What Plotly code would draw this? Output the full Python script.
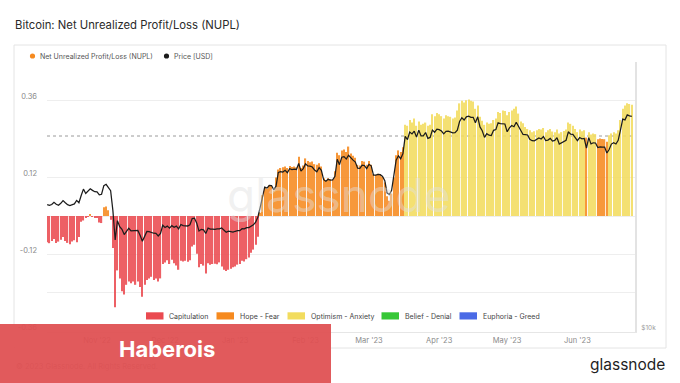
import numpy as np
import pandas as pd
import plotly.graph_objects as go

# ---------------- data ----------------
start_date = "2022-10-10"
end_date = "2023-06-25"

nupl_oct = [-0.082, -0.085, -0.078, -0.072, -0.084, -0.080, -0.074, -0.066, -0.078, -0.084, -0.088,
            -0.080, -0.076, -0.082, -0.066, -0.018, -0.014, -0.004, -0.002, 0.005, -0.003, -0.005]
nupl_nov = [-0.004, -0.020, -0.022, 0.027, 0.030, 0.018, -0.012, -0.100, -0.285, -0.170,
            -0.195, -0.235, -0.245, -0.215, -0.205, -0.210, -0.205, -0.215, -0.205, -0.222,
            -0.252, -0.215, -0.200, -0.195, -0.190, -0.200, -0.195, -0.205, -0.195, -0.150]
nupl_dec = [-0.145, -0.138, -0.150, -0.137, -0.148, -0.155, -0.168, -0.140, -0.142, -0.140,
            -0.143, -0.138, -0.095, -0.090, -0.118, -0.160, -0.150, -0.155, -0.180, -0.148,
            -0.152, -0.150, -0.149, -0.151, -0.145, -0.158, -0.168, -0.172, -0.168, -0.165, -0.160]
nupl_jan = [-0.158, -0.152, -0.150, -0.140, -0.142, -0.135, -0.130, -0.115, -0.105, -0.090,
            -0.065, 0.010, 0.065, 0.088, 0.085, 0.095, 0.095, 0.080, 0.120, 0.145,
            0.150, 0.152, 0.155, 0.150, 0.156, 0.153, 0.155, 0.152, 0.185, 0.150, 0.158]
nupl_feb = [0.180, 0.172, 0.168, 0.170, 0.162, 0.160, 0.165, 0.155, 0.118, 0.112,
            0.118, 0.115, 0.114, 0.140, 0.198, 0.190, 0.205, 0.208, 0.200, 0.217,
            0.195, 0.188, 0.182, 0.160, 0.158, 0.172, 0.170, 0.160]
nupl_mar = [0.172, 0.160, 0.130, 0.128, 0.132, 0.130, 0.122, 0.105, 0.062, 0.048,
            0.070, 0.120, 0.190, 0.205, 0.200, 0.215, 0.285, 0.282, 0.300, 0.292,
            0.305, 0.282, 0.295, 0.285, 0.288, 0.292, 0.282, 0.285, 0.318, 0.312, 0.322]
nupl_apr = [0.318, 0.312, 0.305, 0.315, 0.312, 0.310, 0.305, 0.308, 0.330, 0.352,
            0.360, 0.355, 0.362, 0.364, 0.360, 0.358, 0.335, 0.345, 0.310, 0.298,
            0.285, 0.292, 0.288, 0.290, 0.300, 0.305, 0.325, 0.322, 0.330, 0.328]
nupl_may = [0.315, 0.325, 0.330, 0.335, 0.342, 0.320, 0.295, 0.290, 0.278, 0.272,
            0.268, 0.262, 0.265, 0.268, 0.272, 0.270, 0.275, 0.262, 0.268, 0.272,
            0.264, 0.262, 0.270, 0.258, 0.262, 0.266, 0.270, 0.292, 0.288, 0.282, 0.272]
nupl_jun = [0.262, 0.270, 0.265, 0.268, 0.245, 0.262, 0.255, 0.258, 0.256, 0.240,
            0.242, 0.241, 0.240, 0.232, 0.252, 0.258, 0.262, 0.258, 0.268, 0.300,
            0.335, 0.345, 0.352, 0.350, 0.348]

price_oct = [19130, 19060, 19150, 19380, 19180, 19070, 19270, 19550, 19330, 19130, 19050,
             19170, 19210, 19570, 19330, 20080, 20770, 20290, 20600, 20810, 20630, 20490]
price_nov = [20480, 20150, 20210, 21150, 21300, 20900, 20590, 18540, 15880, 17590,
             17040, 16800, 16350, 16620, 16900, 16660, 16690, 16700, 16700, 16280,
             15780, 16190, 16610, 16600, 16520, 16460, 16440, 16220, 16440, 17170]
price_dec = [16970, 17090, 16910, 17130, 16980, 17090, 16850, 17230, 17130, 17130,
             17100, 17210, 17780, 17820, 17360, 16650, 16800, 16760, 16440, 16910,
             16820, 16830, 16800, 16850, 16840, 16920, 16720, 16550, 16640, 16600, 16550]
price_jan = [16630, 16690, 16680, 16860, 16840, 16950, 16960, 17090, 17200, 17450,
             17930, 18870, 19910, 20980, 20880, 21170, 21160, 20690, 21090, 22680,
             22780, 22720, 22930, 22640, 23120, 23030, 23080, 23030, 23770, 22840, 23140]
price_feb = [23720, 23470, 23450, 23330, 22960, 22760, 23260, 22940, 21820, 21650,
             21870, 21790, 21810, 22220, 24310, 23620, 24570, 24640, 24330, 24830,
             24440, 24190, 23950, 23200, 23180, 23560, 23520, 23150]
price_mar = [23650, 23480, 22360, 22350, 22430, 22410, 22200, 21710, 20360, 20190,
             20630, 22160, 24200, 24750, 24380, 25050, 27420, 26970, 28040, 27770,
             28180, 27310, 28330, 27490, 27490, 27990, 27140, 27270, 28350, 28030, 28480]
price_apr = [28410, 28200, 27790, 28170, 28180, 28040, 27930, 27950, 28330, 29650,
             30240, 29890, 30400, 30490, 30320, 30320, 29450, 30400, 28820, 28250,
             27280, 27820, 27590, 27530, 28310, 28420, 29470, 29340, 29250, 29270]
price_may = [28090, 28680, 29030, 28850, 29540, 28900, 28460, 27690, 27660, 27620,
             27000, 26800, 26780, 26930, 27190, 27040, 27400, 26830, 26890, 27130,
             26750, 26850, 27230, 26330, 26480, 26720, 26870, 28090, 27750, 27700, 27220]
price_jun = [26820, 27250, 27080, 27120, 25760, 27240, 26350, 26510, 26480, 25850,
             25940, 25900, 25920, 25120, 25580, 26330, 26510, 26340, 26850, 28330,
             30030, 29910, 30700, 30550, 30480]

zone_names = ["Capitulation", "Hope - Fear", "Optimism - Anxiety", "Belief - Denial", "Euphoria - Greed"]
zone_colors = ["#ea4a50", "#f68a1f", "#f2dc5e", "#36c736", "#4a6ae6"]
zone_edges = [0.0, 0.25, 0.5, 0.75]
optimism_threshold = 0.25

left_tick_vals = [-0.36, -0.24, -0.12, 0.0, 0.12, 0.36]
left_tick_text = ["-0.36", "", "-0.12", "", "0.12", "0.36"]
right_tick_vals = [10000]
right_tick_text = ["$10k"]

title_text = "Bitcoin: Net Unrealized Profit/Loss (NUPL)"
series_names = ["Net Unrealized Profit/Loss (NUPL)", "Price [USD]"]

# ---------------- assemble ----------------
dates = pd.date_range(start_date, end_date, freq="D")
nupl = np.array(nupl_oct + nupl_nov + nupl_dec + nupl_jan + nupl_feb + nupl_mar +
                nupl_apr + nupl_may + nupl_jun)
price = np.array(price_oct + price_nov + price_dec + price_jan + price_feb + price_mar +
                 price_apr + price_may + price_jun)
assert len(dates) == len(nupl) == len(price)

bar_colors = [zone_colors[i] for i in np.digitize(nupl, zone_edges)]

W, H = 680, 383
def px(x):
    return x / W
def py(y):
    return 1 - y / H

FONT = "Inter, 'Open Sans', sans-serif"

fig = go.Figure()
fig.add_trace(go.Bar(x=dates, y=nupl, marker=dict(color=bar_colors, line=dict(width=0), opacity=0.88),
                     name=series_names[0], yaxis="y", hoverinfo="skip"))
fig.add_trace(go.Scatter(x=dates, y=price, yaxis="y2", mode="lines", name=series_names[1],
                         line=dict(color="#1c1c1c", width=1.25), hoverinfo="skip"))

shapes = []
annotations = []

# card
shapes.append(dict(type="rect", xref="paper", yref="paper", x0=px(14), x1=px(666),
                   y0=py(348), y1=py(45), line=dict(color="#e4e4e4", width=1),
                   fillcolor="white", layer="below"))
# threshold dotted line
shapes.append(dict(type="line", xref="paper", yref="y", x0=px(47), x1=px(635),
                   y0=optimism_threshold, y1=optimism_threshold,
                   line=dict(color="#9a9a9a", width=1, dash="dot"), layer="below"))

# title
annotations.append(dict(text=title_text, xref="paper", yref="paper", x=px(13), y=py(25),
                        xanchor="left", yanchor="middle", showarrow=False,
                        font=dict(family=FONT, size=11.3, color="#2a2a2a")))

# top legend
top_items = [(32.5, 38, series_names[0], zone_colors[1]), (166.5, 172, series_names[1], "#1c1c1c")]
for cx, tx, name, col in top_items:
    shapes.append(dict(type="circle", xref="paper", yref="paper", x0=px(cx - 2.6), x1=px(cx + 2.6),
                       y0=py(56 + 2.6), y1=py(56 - 2.6), fillcolor=col, line=dict(width=0)))
    annotations.append(dict(text=name, xref="paper", yref="paper", x=px(tx), y=py(56.5),
                            xanchor="left", yanchor="middle", showarrow=False,
                            font=dict(family=FONT, size=7, color="#555555")))

# bottom zone legend
legend_box_x = [146, 216.5, 287.5, 381.5, 459.5]
for bx, name, col in zip(legend_box_x, zone_names, zone_colors):
    shapes.append(dict(type="rect", xref="paper", yref="paper", x0=px(bx), x1=px(bx + 17.5),
                       y0=py(319.5), y1=py(312.3), fillcolor=col, line=dict(width=0)))
    annotations.append(dict(text=name, xref="paper", yref="paper", x=px(bx + 21), y=py(316),
                            xanchor="left", yanchor="middle", showarrow=False,
                            font=dict(family=FONT, size=7, color="#444444")))

# watermark
annotations.append(dict(text="glassnode", xref="paper", yref="paper", x=px(339), y=py(195),
                        xanchor="center", yanchor="middle", showarrow=False,
                        font=dict(family=FONT, size=46, color="rgba(225,225,225,0.45)")))

# footer
annotations.append(dict(text="\u00a9 2023 Glassnode. All Rights Reserved.", xref="paper", yref="paper",
                        x=px(14), y=py(366), xanchor="left", yanchor="middle", showarrow=False,
                        font=dict(family=FONT, size=7.5, color="#9a9a9a")))
annotations.append(dict(text="glassnode", xref="paper", yref="paper", x=px(667), y=py(364),
                        xanchor="right", yanchor="middle", showarrow=False,
                        font=dict(family=FONT, size=15.5, color="#1f1f1f")))

# overlay banner
annotations.append(dict(text=" ", xref="paper", yref="paper", x=0, y=0, xanchor="left",
                        yanchor="bottom", showarrow=False, width=331, height=59,
                        bgcolor="rgba(223,80,82,0.94)", borderpad=0, borderwidth=0,
                        font=dict(size=10)))
annotations.append(dict(text="<b>Haberois</b>", xref="paper", yref="paper", x=px(166.5), y=py(349),
                        xanchor="center", yanchor="middle", showarrow=False,
                        font=dict(family=FONT, size=22, color="white")))

fig.update_layout(
    template="none",
    width=W, height=H, autosize=False,
    margin=dict(l=0, r=0, t=0, b=0, pad=0),
    paper_bgcolor="white", plot_bgcolor="rgba(0,0,0,0)",
    bargap=0.45, showlegend=False,
    shapes=shapes, annotations=annotations,
    xaxis=dict(domain=[px(47), px(635)], type="date", automargin=False,
               range=["2022-10-09 22:00", "2023-06-26 10:00"],
               tick0="2022-11-01", dtick="M1", tickformat="%b '%y",
               showgrid=False, zeroline=False, showline=True, linecolor="#e6e6e6", linewidth=1,
               ticks="", tickfont=dict(family=FONT, size=7.5, color="#8a8a8a"),
               ticklabelstandoff=1),
    yaxis=dict(domain=[py(332), py(62)], range=[-0.3625, 0.48125], automargin=False,
               tickvals=left_tick_vals, ticktext=left_tick_text,
               showgrid=True, gridcolor="#eeeeee", gridwidth=1, zeroline=False,
               showline=False, ticks="", ticklabelshift=-4, ticklabelstandoff=9,
               tickfont=dict(family=FONT, size=7.5, color="#8a8a8a")),
    yaxis2=dict(overlaying="y", side="right", anchor="x", type="log", automargin=False,
                range=[3.99042, 4.60827], tickvals=right_tick_vals, ticktext=right_tick_text,
                showgrid=False, zeroline=False, showline=True, linecolor="#e3e3e3", linewidth=2,
                ticks="", ticklabelstandoff=3,
                tickfont=dict(family=FONT, size=6.5, color="#9a9a9a")),
    font=dict(family=FONT),
)

fig.write_html("out.html", config={"displayModeBar": False},
               post_script="document.body.style.margin='0px';")
